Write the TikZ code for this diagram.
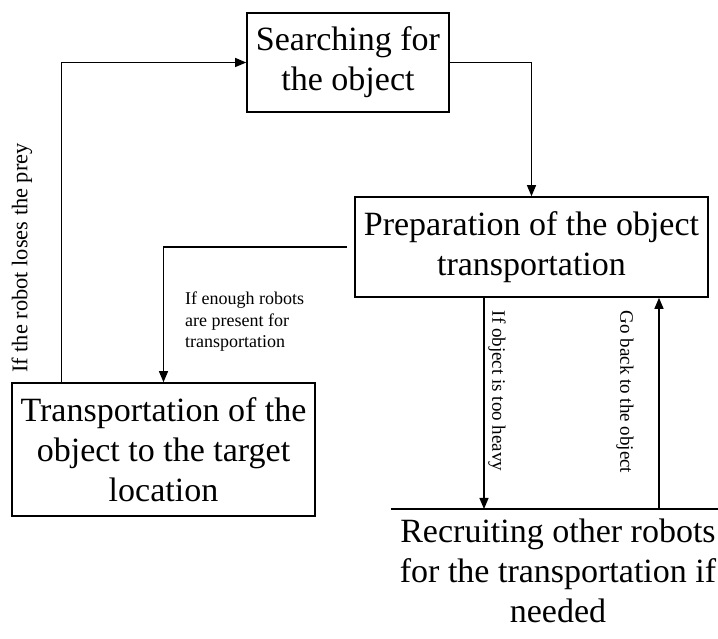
\documentclass[tikz,border=0pt]{standalone}
\usepackage{fontspec}
\setmainfont{Liberation Serif}
\usetikzlibrary{arrows.meta}
\begin{document}
\begin{tikzpicture}[x=1pt,y=1pt,
  stage/.style={draw, line width=1.6pt, align=center,
    font=\fontsize{34}{40}\selectfont, inner sep=0pt},
  flow/.style={line width=1.2pt, -{Triangle[length=11pt,width=9pt]}},
  cond/.style={font=\fontsize{18}{21.5}\selectfont, align=left, inner sep=0pt}]
\useasboundingbox (0,0) rectangle (718,639);
\clip (0,0) rectangle (718,639);

% process stages
\node[stage, minimum width=202pt, minimum height=99pt] (search) at (348,576.5)
  {Searching for\\the object};
\node[stage, minimum width=353pt, minimum height=100pt] (prep) at (531.5,392)
  {Preparation of the object\\transportation};
\node[stage, minimum width=303pt, minimum height=133pt] (trans) at (163.5,189.5)
  {Transportation of the\\object to the target\\location};
\node[stage, draw=none, anchor=north, minimum width=332pt, inner ysep=9pt] (recruit) at (558,130)
  {Recruiting other robots\\for the transportation if\\needed};
\draw[line width=1.6pt] (recruit.north west) -- (recruit.north east);

% x positions of the two vertical links between preparation and recruiting
\coordinate (heavyx) at (484,0);
\coordinate (backx) at (659,0);

% connectors
\draw[flow] (search.east) -| (prep.north);
\draw[flow] ([xshift=-7pt]prep.west) -| (trans.north);
\draw[flow] (trans.north west) ++(50,0) |- (search.west);
\draw[flow] (prep.south -| heavyx) -- (recruit.north -| heavyx);
\draw[flow] (recruit.north -| backx) -- (prep.south -| backx);

% conditions
\node[cond, rotate=90, font=\fontsize{22.4}{26}\selectfont] (lose) at (22,381) {If the robot loses the prey};
\node[cond, anchor=north west] (enough) at (185,347)
  {If enough robots\\are present for\\transportation};
\node[cond, rotate=-90, font=\fontsize{19}{22}\selectfont] (heavy) at (497,248) {If object is too heavy};
\node[cond, rotate=-90, font=\fontsize{19}{22}\selectfont] (goback) at (625,247) {Go back to the object};
\end{tikzpicture}
\end{document}
